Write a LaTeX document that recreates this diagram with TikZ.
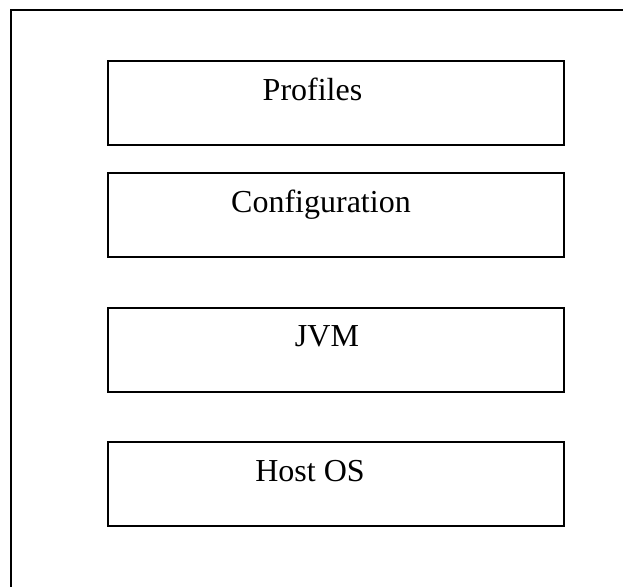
\documentclass[tikz,border=0pt]{standalone}
\usepackage{fontspec}
\setmainfont{Liberation Serif}
\begin{document}
\begin{tikzpicture}[x=1pt,y=-1pt,
  layerbox/.style={draw=black, line width=1.9pt, minimum width=456pt, minimum height=84pt, inner sep=0pt, anchor=north west},
  layertext/.style={anchor=base, inner sep=0pt, font=\fontsize{32}{38}\selectfont}]
  \useasboundingbox (0,0) rectangle (623,586);
  \begin{scope}
    \clip (0,0) rectangle (623,586);
    % outer frame, running off the right and bottom edges
    \draw[line width=1.4pt] (11,600) -- (11,10) -- (640,10);
  \end{scope}
  % stacked layers
  \node[layerbox] (profiles) at (107,60) {};
  \node[layerbox] (config)   at (107,172) {};
  \node[layerbox] (jvm)      at (107,307) {};
  \node[layerbox] (hostos)   at (107,441) {};
  \node[layertext] (tprofiles) at (312.5,100) {Profiles};
  \node[layertext] (tconfig)   at (321,212) {Configuration};
  \node[layertext] (tjvm)      at (327,346) {JVM};
  \node[layertext] (thostos)   at (310,481) {Host OS};
\end{tikzpicture}
\end{document}
